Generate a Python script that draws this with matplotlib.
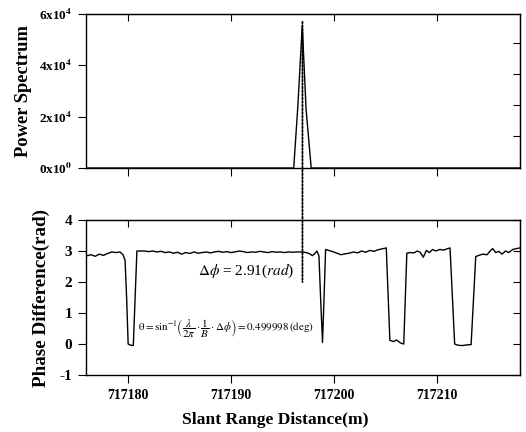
import matplotlib
matplotlib.use("Agg")
import matplotlib.pyplot as plt
from matplotlib.patches import ConnectionPatch

plt.rcParams['font.family'] = 'Liberation Serif'
plt.rcParams['mathtext.fontset'] = 'stix'

# power spectrum (top panel)
spec_x = [717176.0, 717196.1, 717196.5, 717196.93, 717197.3, 717197.8, 717218.1]
spec_y = [0, 0, 2.4e4, 5.55e4, 2.3e4, 0, 0]

# phase difference (bottom panel)
phase_x = [717176.0, 717176.4, 717176.8, 717177.2, 717177.6, 717178.0, 717178.4, 717178.8,
           717179.2, 717179.5, 717179.7, 717179.85, 717180.0, 717180.25, 717180.5, 717180.85,
           717181.2, 717181.6, 717182.0, 717182.4, 717182.8, 717183.2, 717183.6, 717184.0,
           717184.4, 717184.8, 717185.2, 717185.6, 717186.0, 717186.4, 717186.8, 717187.2,
           717187.6, 717188.0, 717188.4, 717188.8, 717189.2, 717189.6, 717190.0, 717190.4,
           717190.8, 717191.2, 717191.6, 717192.0, 717192.4, 717192.8, 717193.2, 717193.6,
           717194.0, 717194.4, 717194.8, 717195.2, 717195.6, 717196.0, 717196.4, 717196.8,
           717197.2, 717197.6, 717197.9, 717198.1, 717198.35, 717198.55, 717198.75, 717198.9,
           717199.05, 717199.2, 717199.5, 717199.9, 717200.3, 717200.7, 717201.1, 717201.5,
           717201.9, 717202.3, 717202.7, 717203.1, 717203.5, 717203.9, 717204.3, 717204.7,
           717205.1, 717205.45, 717205.8, 717206.1, 717206.45, 717206.8, 717207.1, 717207.4,
           717207.8, 717208.1, 717208.4, 717208.7, 717209.0, 717209.3, 717209.6, 717209.9,
           717210.3, 717210.7, 717211.0, 717211.3, 717211.75, 717212.1, 717212.5, 717212.9,
           717213.35, 717213.8, 717214.1, 717214.5, 717214.9, 717215.2, 717215.45, 717215.75,
           717216.05, 717216.35, 717216.7, 717217.0, 717217.4, 717217.8, 717218.1]
phase_y = [2.85, 2.88, 2.83, 2.90, 2.86, 2.92, 2.97, 2.95,
           2.97, 2.88, 2.70, 1.50, 0.00, -0.04, -0.05, 3.00,
           3.00, 3.00, 2.98, 3.00, 2.97, 2.99, 2.95, 2.97,
           2.93, 2.96, 2.90, 2.95, 2.92, 2.97, 2.93, 2.95,
           2.97, 2.94, 2.97, 2.99, 2.96, 2.98, 2.95, 2.97,
           3.00, 2.98, 2.95, 2.97, 2.96, 2.99, 2.97, 2.95,
           2.98, 2.96, 2.97, 2.95, 2.97, 2.96, 2.97, 2.97,
           2.96, 2.92, 2.85, 2.90, 3.00, 2.85, 1.20, 0.05,
           1.50, 3.05, 3.02, 2.98, 2.93, 2.88, 2.91, 2.93,
           2.97, 2.94, 3.00, 2.96, 3.02, 2.99, 3.04, 3.07,
           3.10, 0.12, 0.08, 0.13, 0.04, 0.00, 2.93, 2.95,
           2.94, 3.00, 2.96, 2.80, 3.02, 2.95, 3.05, 3.00,
           3.05, 3.03, 3.07, 3.10, 0.00, -0.04, -0.05, -0.03,
           -0.02, 2.82, 2.86, 2.90, 2.88, 3.00, 3.08, 2.95,
           2.99, 2.90, 3.00, 2.95, 3.05, 3.08, 3.10]

x_ticks = [717180, 717190, 717200, 717210]
spec_ticks = [0, 2e4, 4e4, 6e4]
spec_ticklabels = [r'0x10$^{\mathbf{0}}$', r'2x10$^{\mathbf{4}}$', r'4x10$^{\mathbf{4}}$', r'6x10$^{\mathbf{4}}$']
spec_right_ticks = [1.25e4, 2.45e4, 3.66e4, 4.87e4]
phase_ticks = [-1, 0, 1, 2, 3, 4]
peak_x = 717196.95

fig = plt.figure(figsize=(5.26, 4.32), dpi=100)
ax1 = fig.add_axes([0.1635, 0.6111, 0.825, 0.3565])
ax2 = fig.add_axes([0.1635, 0.1319, 0.825, 0.3588])

ax1.plot(spec_x, spec_y, color='black', lw=1.0)
ax1.set_xlim(717175.9, 717218.1)
ax1.set_ylim(0, 6e4)
ax1.set_xticks(x_ticks)
ax1.set_xticklabels([])
ax1.set_yticks(spec_ticks)
ax1.set_yticklabels(spec_ticklabels, fontweight='bold', fontsize=9.5)
ax1.set_ylabel('Power Spectrum', fontweight='bold', fontsize=13.3, labelpad=5)

ax2.plot(phase_x, phase_y, color='black', lw=1.0)
ax2.set_xlim(717175.9, 717218.1)
ax2.set_ylim(-1, 4)
ax2.set_xticks(x_ticks)
ax2.set_xticklabels([str(t) for t in x_ticks], fontweight='bold', fontsize=10)
ax2.set_yticks(phase_ticks)
ax2.set_yticklabels([str(t) for t in phase_ticks], fontweight='bold', fontsize=11)
ax2.set_ylabel('Phase Difference(rad)', fontweight='bold', fontsize=13.8, labelpad=7)
ax2.set_xlabel('Slant Range Distance(m)', fontweight='bold', fontsize=12.6, labelpad=7, x=0.435)

for ax in (ax1, ax2):
    ax.tick_params(direction='out', length=6, width=0.8, pad=4)
    top = ax.secondary_xaxis('top')
    top.set_xticks(x_ticks)
    top.tick_params(direction='in', length=5, width=0.8, labeltop=False)
    for s in ax.spines.values():
        s.set_linewidth(1.0)

r1 = ax1.secondary_yaxis('right')
r1.set_yticks(spec_right_ticks)
r1.tick_params(direction='in', length=5, width=0.8, labelright=False)
r2 = ax2.secondary_yaxis('right')
r2.set_yticks(phase_ticks)
r2.tick_params(direction='in', length=5, width=0.8, labelright=False)

con = ConnectionPatch(xyA=(peak_x, 5.7e4), coordsA=ax1.transData,
                      xyB=(peak_x, 2.0), coordsB=ax2.transData,
                      linestyle=(0, (1, 1)), lw=1.3, color='black')
fig.add_artist(con)

ax2.text(717186.8, 2.35, r'$\Delta\phi$ = 2.91($\mathit{rad}$)', fontsize=11, va='center')
ax2.text(717180.95, 0.48,
         r'$\mathrm{\theta} = \mathrm{sin}^{-1}\left(\dfrac{\lambda}{2\pi}\cdot\dfrac{1}{B}\cdot\Delta\phi\right) = 0.499998\,(\mathrm{deg})$',
         fontsize=7.9, va='center')

fig.savefig('out.png', dpi=100)
